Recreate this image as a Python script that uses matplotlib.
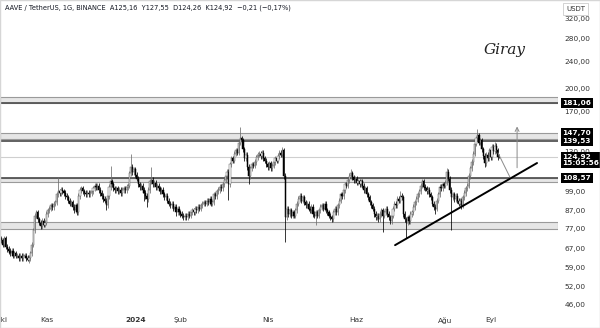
#!/usr/bin/env python3

import matplotlib
matplotlib.use("Agg")
import matplotlib.pyplot as plt
import matplotlib.transforms as mtransforms
from matplotlib.patches import Rectangle
from matplotlib.ticker import FixedLocator, NullLocator

# daily closes, AAVE/USDT, day 0 = 1 Oct 2023, last day = 7 Sep 2024
closes = [
    71, 69, 72, 68, 67, 66, 65, 66, 64, 65,
    64, 64, 63, 64, 63, 64, 64, 63, 62, 63,
    65, 69, 76, 84, 86, 82, 80, 78, 81, 79,
    80, 85, 87, 88, 90, 89, 91, 92, 97, 99,
    98, 100, 99, 98, 96, 95, 93, 91, 92, 89,
    87, 90, 86, 96, 100, 101, 99, 98, 97, 98,
    97, 98, 99, 101, 103, 102, 103, 100, 98, 96,
    94, 93, 90, 96, 102, 106, 104, 101, 100, 101,
    99, 100, 98, 100, 101, 100, 102, 103, 112, 117,
    113, 115, 111, 108, 104, 102, 103, 100, 98, 96,
    94, 100, 106, 107, 104, 105, 102, 103, 101, 99,
    100, 97, 95, 96, 93, 91, 90, 91, 88, 89,
    86, 88, 86, 85, 84, 83, 84, 83, 85, 84,
    86, 87, 86, 88, 87, 89, 88, 90, 91, 92,
    91, 93, 92, 94, 91, 92, 97, 96, 99, 100,
    102, 101, 104, 107, 110, 113, 104, 119, 124, 122,
    128, 131, 129, 138, 142, 140, 132, 124, 127, 117,
    110, 116, 119, 118, 121, 125, 127, 128, 126, 129,
    124, 122, 119, 117, 120, 116, 118, 121, 124, 122,
    126, 129, 127, 131, 110, 83, 88, 85, 87, 84,
    86, 84, 87, 91, 94, 96, 93, 95, 92, 90,
    91, 88, 87, 89, 85, 84, 86, 84, 87, 89,
    90, 88, 91, 87, 86, 84, 83, 82, 86, 88,
    86, 90, 93, 97, 96, 100, 104, 103, 107, 110,
    112, 109, 107, 108, 105, 106, 104, 106, 103, 100,
    101, 97, 95, 92, 90, 88, 85, 83, 84, 82,
    85, 87, 84, 86, 88, 85, 83, 81, 84, 88,
    91, 90, 94, 93, 96, 95, 85, 82, 80, 83,
    81, 85, 86, 89, 92, 94, 97, 99, 103, 106,
    102, 101, 99, 100, 97, 95, 91, 89, 88, 93,
    97, 102, 101, 104, 103, 105, 113, 108, 100, 95,
    97, 94, 96, 93, 91, 93, 90, 95, 98, 101,
    103, 110, 116, 121, 128, 137, 142, 145, 138, 140,
    132, 126, 120, 127, 124, 131, 125, 134, 130, 135,
    131, 125.16, 124.92,
]
first_open = 72

# long wicks (day index -> price)
spike_highs = {39: 109, 75: 118, 89: 128, 103: 117, 164: 153, 193: 134,
               240: 115, 274: 99, 289: 108, 306: 116, 327: 151, 339: 139,
               342: 127.55}
spike_lows = {18: 61.5, 72: 87, 98: 92.5, 100: 89, 120: 84, 156: 93.5,
              170: 104, 195: 70, 216: 79, 262: 75, 278: 72, 298: 85,
              309: 76, 316: 88, 332: 117, 342: 124.26}

# drawn levels
level_lines = [181.06, 139.53, 108.57]
zones = [(181.06, 188.0), (141.5, 147.70), (105.3, 108.57), (76.6, 80.3)]
last_price = 124.92

# month ticks (day index, label)
month_days = [0, 31, 92, 123, 183, 244, 305, 336]
month_labels = ["Eki", "Kas", "2024", "Şub", "Nis", "Haz", "Ağu", "Eyl"]

price_ticks = [46, 52, 59, 67, 77, 87, 99, 130, 170, 200, 240, 280, 320]
price_tags = [("181,06", 181.06), ("147,70", 147.70), ("139,53", 139.53),
              ("124,92\n15:05:56", 122.8), ("108,57", 108.57)]

# user drawings
trend_days = [270.4, 367.9]
trend_prices = [68.7, 120.1]
path_days = [341.1, 349.3]
path_prices = [128.6, 109.1]
arrow_day = 354.2
arrow_from, arrow_to = 116.3, 154.0

WICK_PAD = 0.018


def fmt(v):
    return f"{v:.2f}".replace(".", ",")


fig = plt.figure(figsize=(6, 3.28), dpi=100)
ax = fig.add_axes([0, 16 / 328, 558 / 600, 312 / 328])
ax.set_yscale("log")
ax.set_ylim(43.6, 364)
ax.set_xlim(-0.9, 382.3)

opens = [first_open] + closes[:-1]
opens[-1] = 125.16
for i, (o, c) in enumerate(zip(opens, closes)):
    top, bot = max(o, c), min(o, c)
    hi = spike_highs.get(i, top * (1 + WICK_PAD))
    lo = spike_lows.get(i, bot * (1 - WICK_PAD))
    up = c >= o
    wc = "#6e6e6e" if up else "#000000"
    ax.vlines(i, lo, hi, color=wc, lw=0.55, zorder=3)
    h = max(top - bot, top * 0.005)
    ax.bar(i, h, bottom=bot, width=0.8,
           color="#ffffff" if up else "#000000",
           edgecolor="#5a5a5a" if up else "#000000", lw=0.35, zorder=4)

for lo, hi in zones:
    ax.axhspan(lo, hi, facecolor="#e6e6e6", edgecolor="#9a9a9a", lw=0.8, zorder=1)
for lv in level_lines:
    ax.axhline(lv, color="#555555", lw=1.3, zorder=2)
ax.axhline(last_price, color="#cfcfcf", lw=0.8, zorder=1)

ax.plot(trend_days, trend_prices, color="#000000", lw=1.4, zorder=5,
        solid_capstyle="round")
ax.plot(path_days, path_prices, color="#8a8a8a", lw=0.7, zorder=5)
ax.annotate("", xy=(arrow_day, arrow_to), xytext=(arrow_day, arrow_from),
            arrowprops=dict(arrowstyle="->", color="#8a8a8a", lw=0.7,
                            shrinkA=0, shrinkB=0, mutation_scale=7), zorder=5)

for s in ax.spines.values():
    s.set_visible(False)

ax.yaxis.tick_right()
ax.yaxis.set_major_locator(FixedLocator(price_ticks))
ax.yaxis.set_minor_locator(NullLocator())
ax.set_yticklabels([fmt(v) for v in price_ticks])
ax.tick_params(axis="y", length=0, pad=4.5, labelsize=5.3, labelcolor="#333333")

ax.set_xticks(month_days)
ax.set_xticklabels(month_labels)
ax.tick_params(axis="x", length=0, pad=3.5, labelsize=5.3, labelcolor="#333333")
for lab in ax.get_xticklabels():
    if lab.get_text() == "2024":
        lab.set_fontweight("bold")

trans = mtransforms.blended_transform_factory(ax.transAxes, ax.transData)
for txt, y in price_tags:
    ax.text(1.008, y, txt, transform=trans, fontsize=5.3, color="white",
            fontweight="bold", va="center", ha="left", clip_on=False, zorder=10,
            linespacing=1.05,
            bbox=dict(boxstyle="square,pad=0.25", fc="#000000", ec="none"))

fig.text(566 / 600, 1 - 9 / 328, "USDT", fontsize=5, color="#333333",
         va="center", ha="left", zorder=10,
         bbox=dict(boxstyle="square,pad=0.5", fc="white", ec="#cccccc", lw=0.6))

fig.text(5 / 600, 1 - 8 / 328,
         "AAVE / TetherUS, 1G, BINANCE  A125,16  Y127,55  D124,26  K124,92  \u22120,21 (\u22120,17%)",
         fontsize=4.8, color="#131722", va="center", ha="left")

fig.text(505 / 600, 1 - 50 / 328, "Giray", fontsize=11, family="DejaVu Serif",
         style="italic", color="#222222", ha="center", va="center")

fig.patches.append(Rectangle((0, 0), 1, 1, transform=fig.transFigure,
                             fill=False, ec="#d6d6d6", lw=1))

fig.savefig("out.png", dpi=100, facecolor="white")
